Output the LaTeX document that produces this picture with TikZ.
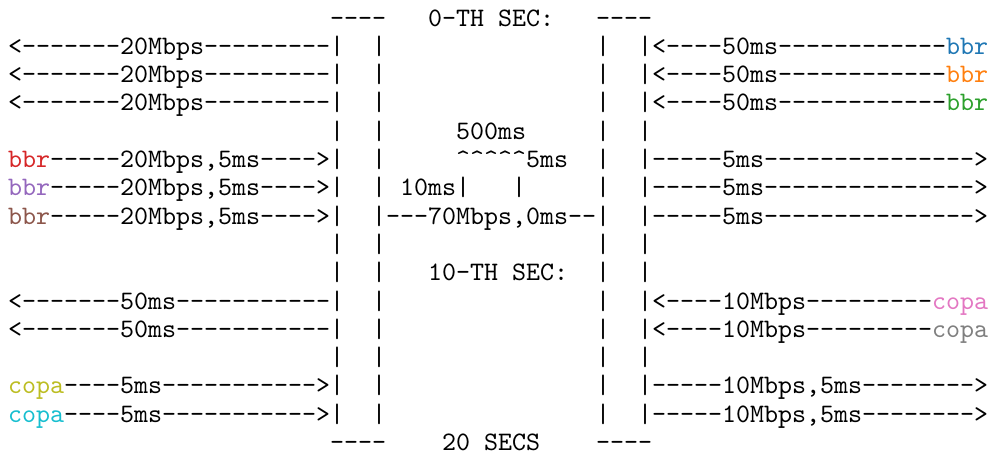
\documentclass[tikz,border=0pt]{standalone}
\usepackage{xcolor}
\usepackage{tikz}
\definecolor{tabblue}{HTML}{1F77B4}
\definecolor{taborange}{HTML}{FF7F0E}
\definecolor{tabgreen}{HTML}{2CA02C}
\definecolor{tabred}{HTML}{D62728}
\definecolor{tabpurple}{HTML}{9467BD}
\definecolor{tabbrown}{HTML}{8C564B}
\definecolor{tabpink}{HTML}{E377C2}
\definecolor{tabgray}{HTML}{7F7F7F}
\definecolor{tabolive}{HTML}{BCBD22}
\definecolor{tabcyan}{HTML}{17BECF}
\font\asciitt="[lmmono10-regular.otf]" at 26.667pt

\begin{document}
\begin{tikzpicture}[
  x=14pt, y=-28.3pt,
  txt/.style={anchor=base west,inner sep=0pt,font=\asciitt}
]
  \useasboundingbox (-0.571,-0.919) rectangle (70.143,15.335);

  % headers
  \node[txt] (h0l) at (23,0) {----};
  \node[txt] (h0) at (30,0) {0-TH SEC:};
  \node[txt] (h0r) at (42,0) {----};
  \node[txt] (h1) at (30,9) {10-TH SEC:};
  \node[txt] (h2l) at (23,15) {----};
  \node[txt] (h2) at (31,15) {20 SECS};
  \node[txt] (h2r) at (42,15) {----};

  % bottleneck walls
  \foreach \r in {1,...,14} {
    \node[txt] (wl\r) at (26,\r) {|};
    \node[txt] (wr\r) at (42,\r) {|};
  }
  \foreach \r in {4,8,9,12} {
    \node[txt] (ol\r) at (23,\r) {|};
    \node[txt] (or\r) at (45,\r) {|};
  }

  % bbr flows
  \foreach \r/\c in {1/tabblue,2/taborange,3/tabgreen} {
    \node[txt] (rx\r) at (0,\r) {<-------20Mbps---------|};
    \node[txt] (tx\r) at (45,\r) {|<----50ms------------\textcolor{\c}{bbr}};
  }
  \foreach \r/\c in {5/tabred,6/tabpurple,7/tabbrown} {
    \node[txt] (tx\r) at (0,\r) {\textcolor{\c}{bbr}-----20Mbps,5ms---->|};
    \node[txt] (rx\r) at (45,\r) {|-----5ms--------------->};
  }

  % bottleneck link
  \node[txt] (q) at (32,4) {500ms};
  \node[txt] (qd) at (32,5) {\string^\string^\string^\string^\string^5ms};
  \node[txt] (bd) at (28,6) {10ms|};
  \node[txt] (bd2) at (36,6) {|};
  \node[txt] (bl) at (27,7) {---70Mbps,0ms--};

  % copa flows
  \foreach \r/\c in {10/tabpink,11/tabgray} {
    \node[txt] (rx\r) at (0,\r) {<-------50ms-----------|};
    \node[txt] (tx\r) at (45,\r) {|<----10Mbps---------\textcolor{\c}{copa}};
  }
  \foreach \r/\c in {13/tabolive,14/tabcyan} {
    \node[txt] (tx\r) at (0,\r) {\textcolor{\c}{copa}----5ms----------->|};
    \node[txt] (rx\r) at (45,\r) {|-----10Mbps,5ms-------->};
  }
\end{tikzpicture}
\end{document}
